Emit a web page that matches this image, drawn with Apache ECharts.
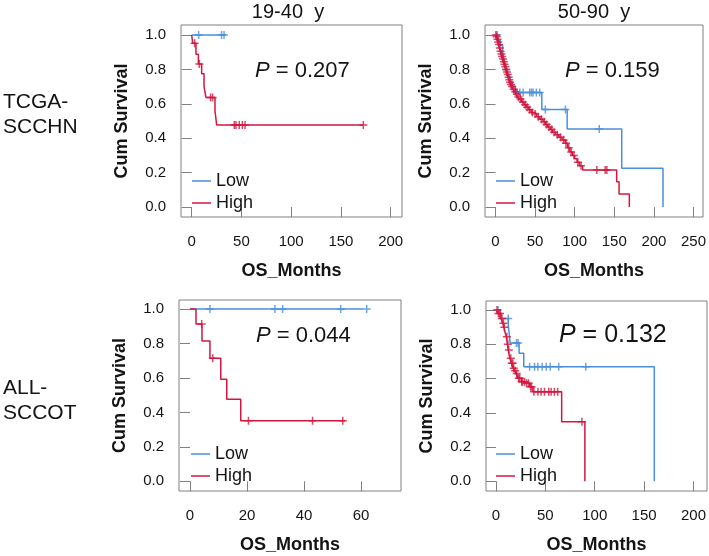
<!DOCTYPE html>
<html>
<head>
<meta charset="utf-8">
<script src="https://cdn.jsdelivr.net/npm/echarts@6/dist/echarts.min.js"></script>
<style>html,body{margin:0;padding:0;background:#fff}#c{width:709px;height:556px}</style>
</head>
<body>
<div id="c"></div>
<script>
// ---------- data ----------
const colTitles = ['19-40  y', '50-90  y'];
const rowTitles = ['TCGA-\nSCCHN', 'ALL-\nSCCOT'];
const pValues = ['0.207', '0.159', '0.044', '0.132'];
const groupNames = ['Low', 'High'];
const xTickMax = [200, 250, 60, 200];
const xTickStep = [50, 50, 20, 50];
const yTickStep = 0.2;

// Panel 1: TCGA-SCCHN, 19-40 y
const p1LowT = [0, 34];
const p1LowS = [1, 1];
const p1LowCens = [7, 30, 32.5];
const p1HighT = [0, 1, 4.3, 6.7, 10, 12.4, 14.4, 23.4, 25.1, 172.5];
const p1HighS = [1, 0.952, 0.888, 0.832, 0.775, 0.70, 0.636, 0.558, 0.477, 0.477];
const p1HighCens = [3, 7.7, 19, 21, 42.8, 44.5, 47.8, 50.9, 53.6, 172.5];

// Panel 2: TCGA-SCCHN, 50-90 y
const p2LowT = [0, 3, 6, 9, 11, 13, 15, 18, 21, 25, 58.5, 90.5, 159.4, 211.5];
const p2LowS = [1, 0.97, 0.94, 0.90, 0.85, 0.80, 0.76, 0.73, 0.70, 0.665, 0.567, 0.453, 0.225, 0];
const p2LowCens = [2, 13.2, 27, 30.7, 34.9, 43.2, 45.4, 47.4, 51.6, 55.8, 62.9, 88.3, 131];
const p2HighT = [0, 1, 2, 3, 4, 5, 6, 7, 8, 9, 10, 11, 12, 13, 14, 15, 16, 17, 18, 19, 20, 22, 24, 26, 28, 30, 33, 36, 39, 42, 45, 48, 52, 56, 60, 63, 66, 69, 72, 76, 80, 84, 88, 91, 94, 97, 100, 103, 106, 110, 153, 156, 169];
const p2HighS = [1, 0.99, 0.975, 0.96, 0.945, 0.925, 0.905, 0.89, 0.875, 0.86, 0.845, 0.83, 0.815, 0.80, 0.785, 0.77, 0.755, 0.74, 0.725, 0.712, 0.70, 0.685, 0.67, 0.655, 0.64, 0.628, 0.61, 0.595, 0.58, 0.565, 0.55, 0.54, 0.525, 0.51, 0.495, 0.48, 0.465, 0.45, 0.435, 0.42, 0.405, 0.39, 0.37, 0.345, 0.32, 0.30, 0.28, 0.26, 0.24, 0.215, 0.147, 0.076, 0];
const p2HighCens = [0.5, 1.5, 2.5, 3.4, 4.5, 5.5, 6.4, 7.5, 8.4, 9.5, 10.5, 11.4, 12.5, 13.6, 14.5, 15.4, 16.6, 17.5, 18.4, 19.6, 21, 23, 25, 27, 29, 31.5, 34.5, 37.5, 40, 43, 46.5, 50, 54, 58, 61.5, 64.5, 67.5, 71, 74, 78, 82, 86, 89, 92.5, 95.5, 99, 104, 108, 128, 138.5, 140.6];

// Panel 3: ALL-SCCOT, 19-40 y
const p3LowT = [0, 62.9];
const p3LowS = [1, 1];
const p3LowCens = [7, 29.8, 32.5, 52.9, 62];
const p3HighT = [0, 2.1, 4.2, 7, 10.8, 12.9, 17.8, 54.4];
const p3HighS = [1, 0.913, 0.814, 0.714, 0.592, 0.476, 0.352, 0.352];
const p3HighCens = [4.1, 8, 20.5, 43, 53.6];

// Panel 4: ALL-SCCOT, 50-90 y
const p4LowT = [0, 4, 12.5, 13.5, 14.3, 23.4, 28.1, 160.3];
const p4LowS = [1, 0.951, 0.903, 0.855, 0.807, 0.747, 0.669, 0];
const p4LowCens = [2, 12.4, 20.7, 22.4, 34.1, 39.1, 42.4, 46.8, 50.9, 54.9, 63.5, 91];
const p4HighT = [0, 2, 5, 7, 8, 9, 10.5, 11.5, 12.4, 14, 15.7, 17.4, 19, 20.8, 22.4, 25.8, 30.8, 34.1, 37.4, 66.5, 90];
const p4HighS = [1, 0.98, 0.95, 0.922, 0.90, 0.873, 0.844, 0.80, 0.766, 0.718, 0.689, 0.66, 0.645, 0.63, 0.601, 0.581, 0.572, 0.552, 0.523, 0.348, 0];
const p4HighCens = [1, 2.4, 4, 6, 7.5, 8.5, 11, 12, 13, 15, 16, 17, 18, 19.5, 21, 23, 24, 26, 27, 29, 31, 33, 35, 36, 38.4, 42.4, 45.7, 49.1, 53.4, 55.8, 59.1, 62.5, 87];

// ---------- layout / style ----------
const FONT = '"Liberation Sans", Arial, Helvetica, sans-serif';
const BLUE = '#4a8fda';
const RED = '#d3173f';
const BOX = '#808080';
const TXT = '#141414';

// plot area = tick range (0..max, 0..1); frame = surrounding box
const panels = [
  {plot: {left: 191.7, top: 35, width: 199, height: 172}, frame: {left: 181, top: 25, width: 221, height: 192},
   low: [p1LowT, p1LowS, p1LowCens], high: [p1HighT, p1HighS, p1HighCens], pPos: [255, 71], pSize: 22, leg: [192, 172]},
  {plot: {left: 495.5, top: 35, width: 199.5, height: 172}, frame: {left: 485, top: 25, width: 218, height: 192},
   low: [p2LowT, p2LowS, p2LowCens], high: [p2HighT, p2HighS, p2HighCens], pPos: [565, 71], pSize: 22, leg: [496, 172]},
  {plot: {left: 190, top: 309, width: 171, height: 172.3}, frame: {left: 179, top: 300, width: 222, height: 191},
   low: [p3LowT, p3LowS, p3LowCens], high: [p3HighT, p3HighS, p3HighCens], pPos: [256, 336], pSize: 22, leg: [191, 445]},
  {plot: {left: 496, top: 310, width: 199.4, height: 171.3}, frame: {left: 486, top: 301, width: 221, height: 190},
   low: [p4LowT, p4LowS, p4LowCens], high: [p4HighT, p4HighS, p4HighCens], pPos: [559, 335], pSize: 25, leg: [496, 445]}
];

function stepAt(T, S, t) {
  let v = S[0];
  for (let i = 0; i < T.length; i++) { if (T[i] <= t) v = S[i]; }
  return v;
}
const PLUS = 'path://M3.25,0h1.5v3.25h3.25v1.5h-3.25v3.25h-1.5v-3.25h-3.25v-1.5h3.25z';
const nameStyle = {fontFamily: FONT, fontWeight: 'bold', fontSize: 18, color: TXT};

const grids = [], xAxes = [], yAxes = [], series = [], legends = [], graphics = [];
panels.forEach((p, i) => {
  const pl = p.plot, fr = p.frame;
  const xOff = (fr.top + fr.height) - (pl.top + pl.height);
  const yOff = pl.left - fr.left;
  grids.push(Object.assign({show: false}, pl));
  xAxes.push({
    type: 'value', gridIndex: i, min: 0, max: xTickMax[i], interval: xTickStep[i], offset: xOff,
    axisLine: {show: false}, splitLine: {show: false},
    axisTick: {show: true, inside: false, length: 10, lineStyle: {color: BOX, width: 1}},
    axisLabel: {show: true, margin: 17, fontFamily: FONT, fontSize: 15, color: TXT, showMinLabel: true, showMaxLabel: true}
  });
  yAxes.push({
    type: 'value', gridIndex: i, min: 0, max: 1, interval: yTickStep, offset: yOff,
    axisLine: {show: false}, splitLine: {show: false},
    axisTick: {show: true, inside: false, length: 10, lineStyle: {color: BOX, width: 1}},
    axisLabel: {show: true, margin: 15, fontFamily: FONT, fontSize: 15, color: TXT,
                showMinLabel: true, showMaxLabel: true, formatter: v => v.toFixed(1)}
  });
  [[groupNames[0], p.low, BLUE], [groupNames[1], p.high, RED]].forEach(([nm, d, col]) => {
    const [T, S, C] = d;
    series.push({
      name: nm, type: 'line', step: 'end', xAxisIndex: i, yAxisIndex: i, clip: false,
      data: T.map((t, k) => [t, S[k]]), showSymbol: false, symbol: 'none',
      lineStyle: {color: col, width: 1.5}, itemStyle: {color: col}, animation: false, silent: true, z: 3
    });
    series.push({
      name: nm + ' censored', type: 'scatter', xAxisIndex: i, yAxisIndex: i, clip: false,
      data: C.map(t => [t, stepAt(T, S, t)]), symbol: PLUS, symbolSize: 8,
      itemStyle: {color: col}, animation: false, silent: true, z: 4
    });
  });
  legends.push({
    data: groupNames, orient: 'vertical', left: p.leg[0], top: p.leg[1],
    icon: 'rect', itemWidth: 19, itemHeight: 1.5, itemGap: 4, padding: 0,
    selectedMode: false,
    textStyle: {fontFamily: FONT, fontSize: 18, color: TXT, padding: [0, 0, 0, 0]}
  });
  graphics.push({
    type: 'text', x: p.pPos[0], y: p.pPos[1],
    style: {text: '{i|P} = ' + pValues[i], fontFamily: FONT, fontSize: p.pSize, fill: TXT,
            textAlign: 'left', textVerticalAlign: 'middle',
            rich: {i: {fontStyle: 'italic', fontFamily: FONT, fontSize: p.pSize, fill: TXT}}}
  });
});
// frame boxes (grids 4..7) carrying the axis names
panels.forEach((p, i) => {
  grids.push(Object.assign({show: true, borderColor: BOX, borderWidth: 1, backgroundColor: 'transparent'}, p.frame));
  xAxes.push({type: 'value', gridIndex: 4 + i, min: 0, max: 1,
    name: 'OS_Months', nameLocation: 'middle', nameGap: 45, nameTextStyle: nameStyle,
    axisLine: {show: false}, axisTick: {show: false}, axisLabel: {show: false}, splitLine: {show: false}});
  yAxes.push({type: 'value', gridIndex: 4 + i, min: 0, max: 1,
    name: 'Cum Survival', nameLocation: 'middle', nameGap: 50, nameRotate: 90, nameTextStyle: nameStyle,
    axisLine: {show: false}, axisTick: {show: false}, axisLabel: {show: false}, splitLine: {show: false}});
});

graphics.push({type: 'text', x: 288, y: 12, style: {text: colTitles[0], fontFamily: FONT, fontSize: 20, fill: TXT, textAlign: 'center', textVerticalAlign: 'middle'}});
graphics.push({type: 'text', x: 594, y: 12, style: {text: colTitles[1], fontFamily: FONT, fontSize: 20, fill: TXT, textAlign: 'center', textVerticalAlign: 'middle'}});
graphics.push({type: 'text', x: 3, y: 115, style: {text: rowTitles[0], fontFamily: FONT, fontSize: 21, lineHeight: 25, fill: TXT, textAlign: 'left', textVerticalAlign: 'middle'}});
graphics.push({type: 'text', x: 3, y: 401, style: {text: rowTitles[1], fontFamily: FONT, fontSize: 21, lineHeight: 25, fill: TXT, textAlign: 'left', textVerticalAlign: 'middle'}});

const chart = echarts.init(document.getElementById('c'), null, {renderer: 'canvas'});
chart.setOption({
  animation: false,
  backgroundColor: '#ffffff',
  grid: grids, xAxis: xAxes, yAxis: yAxes, series: series, legend: legends, graphic: graphics
});
</script>
</body>
</html>
